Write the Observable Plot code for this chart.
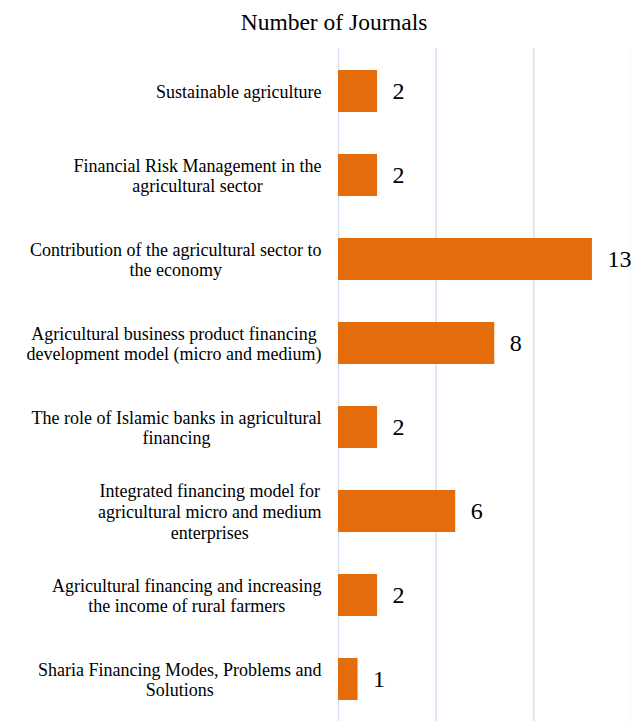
<!DOCTYPE html>
<html><head><meta charset="utf-8">
<script src="https://cdn.jsdelivr.net/npm/d3@7"></script>
<script src="https://cdn.jsdelivr.net/npm/@observablehq/plot@0.6"></script>
</head><body style="margin:0;padding:0;background:#fff;overflow:hidden;width:631px;height:721px">
<div id="title" style="height:48px;font-family:'Liberation Serif',serif;font-size:23.5px;text-align:center;padding-left:37px;box-sizing:border-box;line-height:44px;color:#000">Number of Journals</div>
<div id="chart"></div>
<script>
const topics = [
  "Sustainable agriculture",
  "Financial Risk Management in the\nagricultural sector",
  "Contribution of the agricultural sector to\nthe economy",
  "Agricultural business product financing\ndevelopment model (micro and medium)",
  "The role of Islamic banks in agricultural\nfinancing",
  "Integrated financing model for\nagricultural micro and medium\nenterprises",
  "Agricultural financing and increasing\nthe income of rural farmers",
  "Sharia Financing Modes, Problems and\nSolutions"
];
const counts = [2, 2, 13, 8, 2, 6, 2, 1];
const xTicks = [0, 5, 10, 15];

const data = topics.map((t, i) => ({topic: t, count: counts[i]}));
const serif = "'Liberation Serif', serif";

const chart = Plot.plot({
  width: 631, height: 673,
  marginLeft: 338, marginRight: 0, marginTop: 0, marginBottom: 0,
  style: {fontFamily: serif, background: "transparent", overflow: "visible", color: "#000"},
  x: {domain: [0, 15], axis: null},
  y: {domain: topics, paddingInner: 0.5, paddingOuter: 0.25},
  marks: [
    Plot.ruleX(xTicks, {stroke: "#D5E0F0", strokeWidth: 1.5}),
    Plot.barX(data, {y: "topic", x: "count", fill: "#E46C0A"}),
    Plot.text(data, {y: "topic", x: "count", text: d => String(d.count), textAnchor: "start", dx: 15, fontSize: 24, fill: "#000"}),
    Plot.axisY({tickSize: 0, tickPadding: 17, fontSize: 18, lineHeight: 1.15, label: null, fill: "#000"})
  ]
});
chart.style.display = "block";
document.getElementById("chart").appendChild(chart);

// center the lines of each multi-line label within its right-aligned block
chart.querySelectorAll('[aria-label="y-axis tick label"] text').forEach(t => {
  const spans = t.querySelectorAll("tspan");
  if (!spans.length) return;
  let maxW = 0;
  spans.forEach(s => { maxW = Math.max(maxW, s.getComputedTextLength()); });
  t.setAttribute("text-anchor", "middle");
  spans.forEach(s => s.setAttribute("x", -maxW / 2));
});
</script>
</body></html>
